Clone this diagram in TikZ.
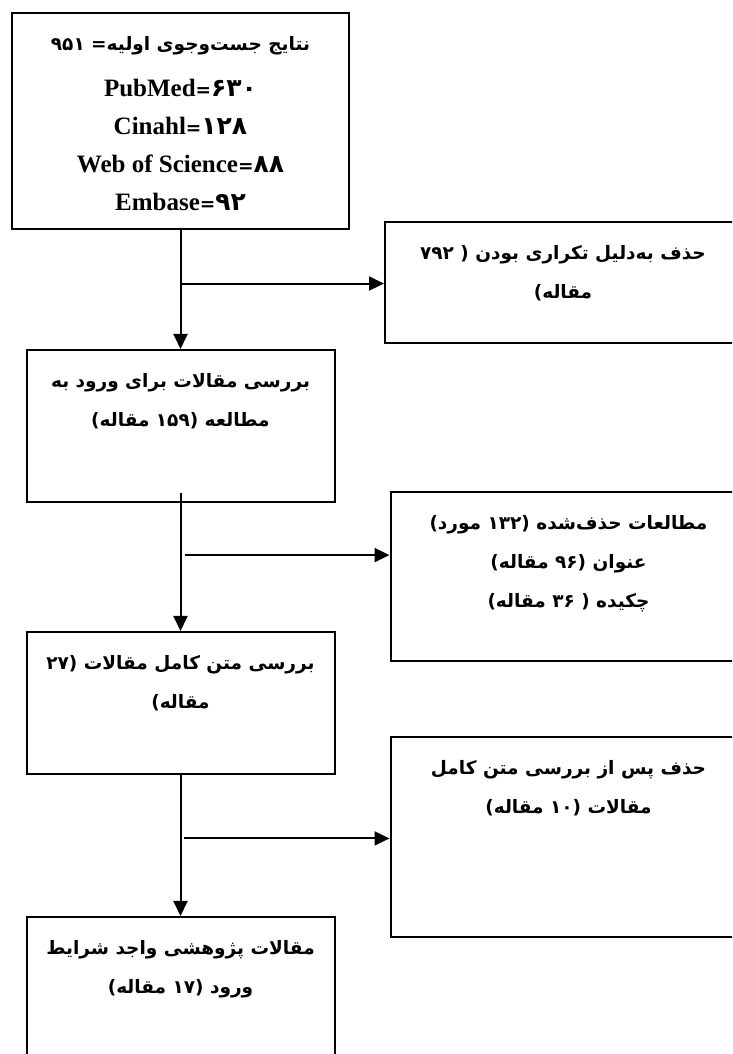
\documentclass[tikz,border=0pt]{standalone}
\usepackage{fontspec}
\setmainfont{Liberation Serif}
\newfontfamily\fa[Script=Arabic]{DejaVu Sans}
\TeXXeTstate=1
\usetikzlibrary{arrows.meta}

\newcommand{\fasize}{\fontsize{18.5pt}{39pt}\selectfont}
\newcommand{\ensize}{\fontsize{25pt}{38pt}\selectfont}
% parentheses inside a right-to-left line
\newcommand{\opn}{\kern0pt(\kern0pt}
\newcommand{\cls}{\kern0pt)\kern0pt}
% database count: = and persian digits
\newcommand{\dbcount}[1]{{\fa{\fasize=}\kern0pt #1}}
% text at the top of a box: width, height, lines
\newcommand{\boxtext}[3]{\parbox[c][#2][t]{#1}{\centering\lineskiplimit=-100pt\bfseries\rule{0pt}{38pt}#3}}

\tikzstyle{bigbox} = [rectangle, draw=black, line width=2pt, inner sep=0pt]
\tikzstyle{stepbox} = [rectangle, draw=black, line width=2pt, inner sep=0pt]
\tikzstyle{sidebox} = [rectangle, draw=black, line width=2pt, inner sep=0pt]
\tikzstyle{arrow} = [line width=2pt, -{Triangle[length=15pt, width=14pt]}]

\begin{document}
\begin{tikzpicture}[x=1pt, y=1pt]
\useasboundingbox (0,0) rectangle (732,1054);
\clip (0,0) rectangle (732,1054);

\node (search) [bigbox] at (180.5,933) {\boxtext{337pt}{216pt}{%
  {\fa\fasize\beginR نتایج جست‌وجوی اولیه\kern0pt= ۹۵۱\endR}\\[8pt]
  \rmfamily\ensize PubMed\dbcount{۶۳۰}\\
  Cinahl\dbcount{۱۲۸}\\
  Web of Science\dbcount{۸۸}\\
  Embase\dbcount{۹۲}}};
\node (screen) [stepbox, below of=search, node distance=305pt] {\boxtext{308pt}{152pt}{%
  \fa\fasize\beginR بررسی مقالات برای ورود به\endR\\
  \beginR مطالعه \opn۱۵۹ مقاله\cls\endR}};
\node (fulltext) [stepbox, below of=screen, node distance=277pt] {\boxtext{308pt}{142pt}{%
  \fa\fasize\beginR بررسی متن کامل مقالات \opn۲۷\endR\\
  \beginR مقاله\cls\endR}};
\node (included) [stepbox, below of=fulltext, node distance=285pt] {\boxtext{308pt}{142pt}{%
  \fa\fasize\beginR مقالات پژوهشی واجد شرایط\endR\\
  \beginR ورود \opn۱۷ مقاله\cls\endR}};

\node (dup) [sidebox, right of=search, node distance=382.5pt, yshift=-161.5pt] {\boxtext{356pt}{121pt}{%
  \fa\fasize\beginR حذف به‌دلیل تکراری بودن \opn{} ۷۹۲\endR\\
  \beginR مقاله\cls\endR}};
\node (excl) [sidebox, right of=screen, node distance=388pt, yshift=-150.5pt] {\boxtext{356pt}{169pt}{%
  \fa\fasize\beginR مطالعات حذف‌شده \opn۱۳۲ مورد\cls\endR\\
  \beginR عنوان \opn۹۶ مقاله\cls\endR\\
  \beginR چکیده \opn{} ۳۶ مقاله\cls\endR}};
\node (excl2) [sidebox, right of=fulltext, node distance=388pt, yshift=-134pt] {\boxtext{356pt}{200pt}{%
  \fa\fasize\beginR حذف پس از بررسی متن کامل\endR\\
  \beginR مقالات \opn۱۰ مقاله\cls\endR}};

\draw[arrow] (search) -- (screen) coordinate[pos=0.45] (split1);
\draw[arrow] (split1) -- (split1 -| dup.west);

\draw[arrow] ([yshift=10pt]screen.south) -- (fulltext) coordinate[pos=0.45] (split2);
\draw[arrow] ([xshift=4pt]split2) -- (split2 -| excl.west);

\draw[arrow] (fulltext) -- (included) coordinate[pos=0.45] (split3);
\draw[arrow] ([xshift=3pt]split3) -- (split3 -| excl2.west);

\end{tikzpicture}
\end{document}
